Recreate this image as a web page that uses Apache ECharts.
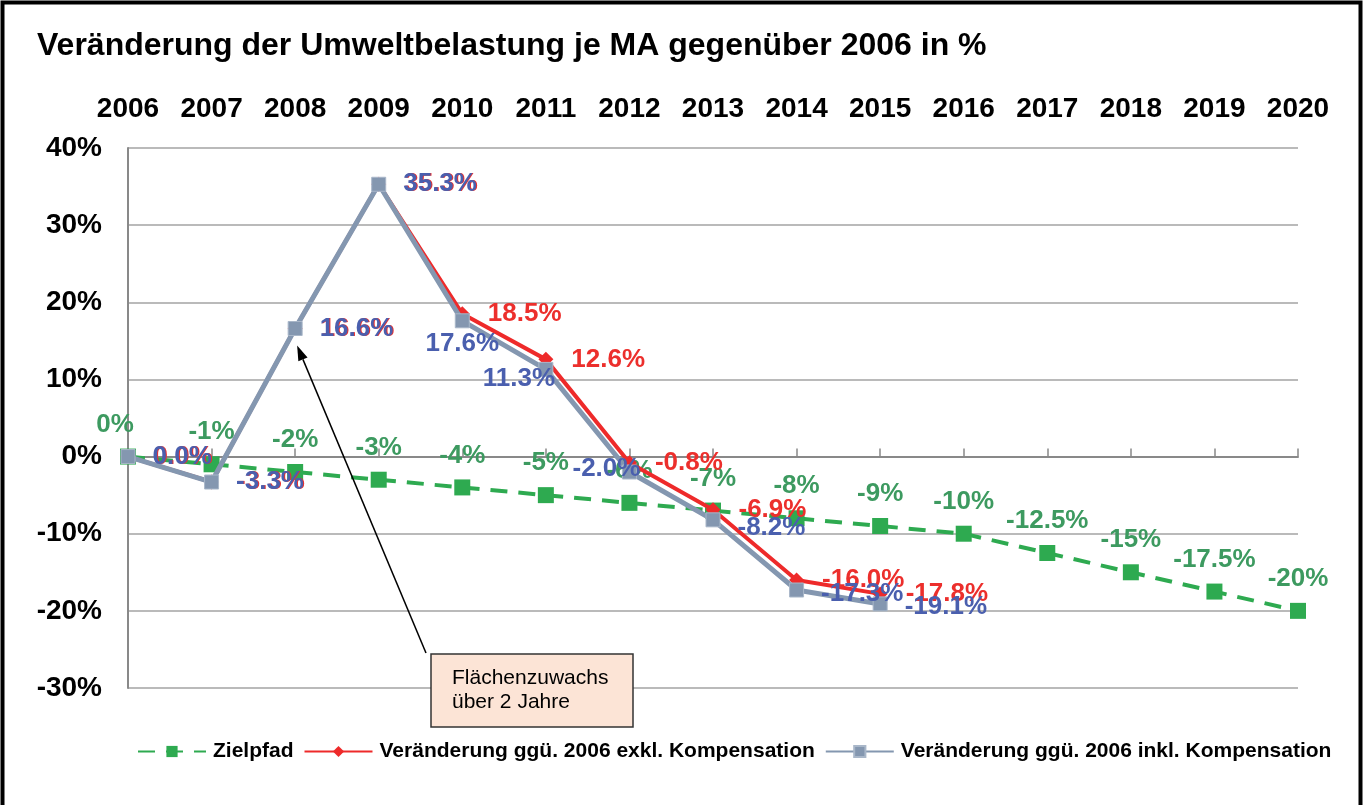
<!DOCTYPE html>
<html>
<head>
<meta charset="utf-8">
<script src="https://cdn.jsdelivr.net/npm/echarts@6/dist/echarts.min.js"></script>
<style>
html,body{margin:0;padding:0;background:#fff;}
#chart{width:1366px;height:805px;}
</style>
</head>
<body>
<div id="chart"></div>
<script>
// ---- data ----
const years = ['2006','2007','2008','2009','2010','2011','2012','2013','2014','2015','2016','2017','2018','2019','2020'];
const zielpfad = [0, -1, -2, -3, -4, -5, -6, -7, -8, -9, -10, -12.5, -15, -17.5, -20];
const exklKompensation = [0.0, -3.3, 16.6, 35.3, 18.5, 12.6, -0.8, -6.9, -16.0, -17.8];
const inklKompensation = [0.0, -3.3, 16.6, 35.3, 17.6, 11.3, -2.0, -8.2, -17.3, -19.1];
const yMin = -30, yMax = 40, yStep = 10;
const seriesNames = ['Zielpfad', 'Veränderung ggü. 2006 exkl. Kompensation', 'Veränderung ggü. 2006 inkl. Kompensation'];
const titleText = 'Veränderung der Umweltbelastung je MA gegenüber 2006 in %';
const noteText = 'Flächenzuwachs\nüber 2 Jahre';

// ---- label placement tweaks (layout, separate from data) ----
const greenLabelTweak = {0: {offset: [-13, 0]}};
const blueLabelTweak = {
  4: {position: 'inside', offset: [0, 23]},
  5: {position: 'inside', offset: [-27, 9]},
  6: {position: 'inside', offset: [-23, -3]},
  7: {offset: [0, 8]},
  8: {offset: [0, 4]},
  9: {offset: [0, 3]}
};

const FONT = 'Liberation Sans, Arial, sans-serif';
const GREEN = '#2eaa50', GREEN_LBL = '#3d9a60';
const RED = '#ee2a2a', RED_LBL = '#ec2f2c';
const GRAY = '#8497b0', BLUE_LBL = '#4a5fae';

function withTweaks(values, tweaks) {
  return values.map((v, i) => tweaks[i] ? {value: v, label: tweaks[i]} : v);
}

const chart = echarts.init(document.getElementById('chart'), null, {renderer: 'canvas'});

const option = {
  backgroundColor: '#fff',
  animation: false,
  title: {
    text: titleText,
    left: 32, top: 25,
    textStyle: {fontFamily: FONT, fontSize: 32, fontWeight: 'bold', color: '#000'}
  },
  grid: {left: 128, right: 68, top: 148, bottom: 117, containLabel: false},
  xAxis: [
    {
      type: 'category', data: years, boundaryGap: false,
      position: 'bottom',
      axisLine: {onZero: true, lineStyle: {color: '#898989', width: 2}},
      axisTick: {show: true, inside: true, length: 8, lineStyle: {color: '#898989', width: 1.5}},
      axisLabel: {show: false},
      splitLine: {show: false}
    },
    {
      type: 'category', data: years, boundaryGap: false,
      position: 'top',
      axisLine: {show: false, onZero: false},
      axisTick: {show: false},
      axisLabel: {show: true, margin: 25, fontFamily: FONT, fontSize: 28, fontWeight: 'bold', color: '#000'},
      splitLine: {show: false}
    }
  ],
  yAxis: {
    type: 'value', min: yMin, max: yMax, interval: yStep,
    axisLine: {show: true, lineStyle: {color: '#898989', width: 2}},
    axisTick: {show: false},
    axisLabel: {margin: 26, fontFamily: FONT, fontSize: 28, fontWeight: 'bold', color: '#000', formatter: '{value}%'},
    splitLine: {show: true, lineStyle: {color: '#a3a3a3', width: 1.5}}
  },
  legend: {
    left: 137, top: 741,
    itemWidth: 68, itemHeight: 14, itemGap: 10,
    padding: 0,
    data: seriesNames,
    textStyle: {fontFamily: FONT, fontSize: 21, fontWeight: 'bold', color: '#000', padding: [0, 0, 0, 2]}
  },
  series: [
    {
      name: seriesNames[0], type: 'line', z: 2,
      data: withTweaks(zielpfad, greenLabelTweak),
      symbol: 'rect', symbolSize: 16,
      lineStyle: {color: GREEN, width: 4, type: [17, 11]},
      itemStyle: {color: GREEN},
      label: {
        show: true, position: 'top', distance: 11,
        fontFamily: FONT, fontSize: 26, fontWeight: 'bold', color: GREEN_LBL,
        formatter: p => p.value + '%'
      }
    },
    {
      name: seriesNames[1], type: 'line', z: 3,
      data: exklKompensation,
      symbol: 'diamond', symbolSize: 15,
      lineStyle: {color: RED, width: 4},
      itemStyle: {color: RED},
      label: {
        show: true, position: 'right', distance: 18,
        fontFamily: FONT, fontSize: 26, fontWeight: 'bold', color: RED_LBL,
        formatter: p => p.value.toFixed(1) + '%'
      }
    },
    {
      name: seriesNames[2], type: 'line', z: 4,
      data: withTweaks(inklKompensation, blueLabelTweak),
      symbol: 'rect', symbolSize: 14,
      lineStyle: {color: GRAY, width: 5},
      itemStyle: {color: GRAY, borderColor: '#a9b7c9', borderWidth: 1},
      label: {
        show: true, position: 'right', distance: 17,
        fontFamily: FONT, fontSize: 26, fontWeight: 'bold', color: BLUE_LBL,
        formatter: p => p.value.toFixed(1) + '%'
      }
    }
  ]
};
chart.setOption(option);

// ---- annotation (callout box + arrow pointing at 2008 point) ----
const pt = chart.convertToPixel({xAxisIndex: 0, yAxisIndex: 0}, [years[2], inklKompensation[2]]);
const tip = [pt[0] + 2, pt[1] + 17];
const start = [426, 653];
const ang = Math.atan2(start[1] - tip[1], start[0] - tip[0]);
const headLen = 15, headW = 5;
const bx = tip[0] + headLen * Math.cos(ang), by = tip[1] + headLen * Math.sin(ang);
const px = -Math.sin(ang) * headW, py = Math.cos(ang) * headW;

chart.setOption({
  graphic: [
    {
      type: 'rect', silent: true, z: 100,
      shape: {x: 2.5, y: 2.5, width: 1358, height: 820},
      style: {fill: 'none', stroke: '#000', lineWidth: 4}
    },
    {
      type: 'line', silent: true, z: 50,
      shape: {x1: start[0], y1: start[1], x2: bx, y2: by},
      style: {stroke: '#000', lineWidth: 1.5}
    },
    {
      type: 'polygon', silent: true, z: 50,
      shape: {points: [tip, [bx + px, by + py], [bx - px, by - py]]},
      style: {fill: '#000'}
    },
    {
      type: 'rect', silent: true, z: 50,
      shape: {x: 431, y: 654, width: 202, height: 73},
      style: {fill: '#fce4d6', stroke: '#333', lineWidth: 1.5}
    },
    {
      type: 'text', silent: true, z: 51,
      x: 452, y: 666,
      style: {text: noteText, font: '21px ' + FONT, fill: '#000', lineHeight: 24, verticalAlign: 'top'}
    }
  ]
});
</script>
</body>
</html>
